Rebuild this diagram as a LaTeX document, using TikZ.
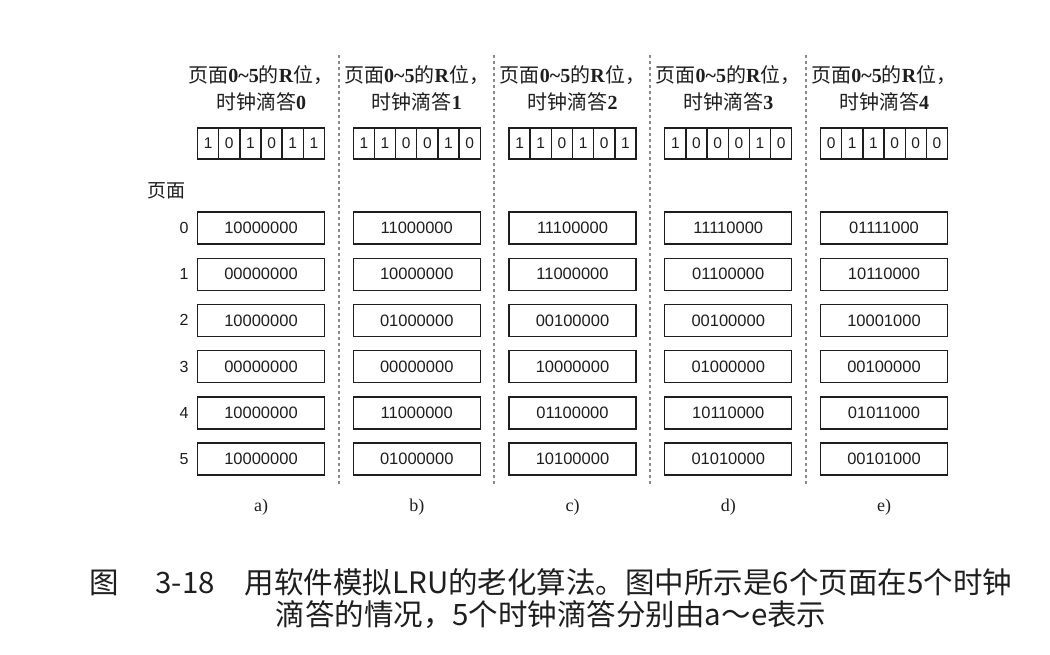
\documentclass[tikz,border=0pt]{standalone}
\usepackage{fontspec}
\setmainfont{Liberation Serif}
\newfontfamily\cjk{Noto Sans CJK SC}
\newfontfamily\bitf{Liberation Sans}
\definecolor{ink}{HTML}{1E1E1E}
\definecolor{sep}{HTML}{8A8A8A}
\begin{document}
\begin{tikzpicture}[x=1pt,y=-1pt,
  regbox/.style={draw=ink,line width=1.4pt,minimum width=127pt,minimum height=32pt,inner sep=0pt,
    font=\bitf\fontsize{16.5}{17}\selectfont,text=ink},
  bitcell/.style={draw=ink,line width=1.4pt,minimum width=21.17pt,minimum height=31pt,inner sep=0pt,
    font=\bitf\fontsize{15.5}{16}\selectfont,text=ink},
  rowlab/.style={font=\bitf\fontsize{16}{17}\selectfont,text=ink,inner sep=0pt},
  head/.style={font=\fontsize{20}{27}\selectfont,text=ink,align=center,inner sep=0pt},
  sublab/.style={font=\fontsize{18}{20}\selectfont,text=ink,inner sep=0pt},
  sepline/.style={draw=sep,line width=1.5pt,dash pattern=on 3pt off 3pt},
  capt/.style={font=\cjk\fontsize{29.5}{32}\selectfont,text=ink,inner sep=0pt}]
\useasboundingbox (0,0) rectangle (1050,654);
\fill[white] (0,0) rectangle (1050,654);
% separators
\foreach \x/\n in {339/1,494/2,650/3,806/4}{
  \coordinate (st\n) at (\x,55);
  \coordinate (sb\n) at (\x,485);
  \draw[sepline] (st\n) -- (sb\n);
}
% page label
\node[head,font=\fontsize{19}{20}\selectfont] (pagelab) at (166,191) {\cjk 页面};
\foreach \j in {0,...,5}{
  \node[rowlab] (rl\j) at (184,{228+46.2*\j}) {\j};
}
% columns
\foreach \c/\lab/\ba/\bb/\bc/\bd/\be/\bf/\ra/\rb/\rc/\rd/\re/\rf in {
  0/a/1/0/1/0/1/1/10000000/00000000/10000000/00000000/10000000/10000000,
  1/b/1/1/0/0/1/0/11000000/10000000/01000000/00000000/11000000/01000000,
  2/c/1/1/0/1/0/1/11100000/11000000/00100000/10000000/01100000/10100000,
  3/d/1/0/0/0/1/0/11110000/01100000/00100000/01000000/10110000/01010000,
  4/e/0/1/1/0/0/0/01111000/10110000/10001000/00100000/01011000/00101000}{
  \pgfmathsetmacro{\cx}{261+155.75*\c}
  \node[head] (h\c) at (\cx,88) {{\cjk 页面}\textbf{0\textasciitilde5}{\cjk 的}\textbf{R}{\cjk 位，}\\{\cjk 时钟滴答}\textbf{\c}};
  \foreach \k/\v in {0/\ba,1/\bb,2/\bc,3/\bd,4/\be,5/\bf}{
    \node[bitcell] (b\c-\k) at ({\cx-52.9+21.17*\k},143.5) {\v};
  }
  \foreach \j/\v in {0/\ra,1/\rb,2/\rc,3/\rd,4/\re,5/\rf}{
    \node[regbox] (r\c-\j) at (\cx,{228+46.2*\j}) {\v};
  }
  \node[sublab] (l\c) at (\cx,507) {\lab)};
}
% caption
\node[capt] (cap1) at (551,582) {图\hspace{36pt}3-18\hspace{30pt}用软件模拟LRU的老化算法。图中所示是6个页面在5个时钟};
\node[capt] (cap2) at (551,615) {滴答的情况，5个时钟滴答分别由a～e表示};
\end{tikzpicture}
\end{document}
